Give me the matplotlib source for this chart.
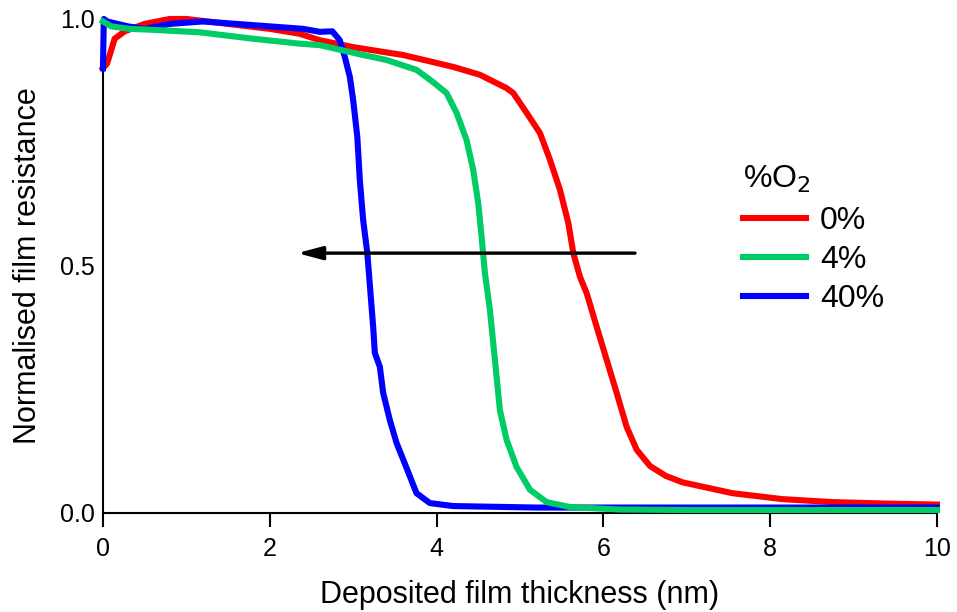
import matplotlib.pyplot as plt

plt.rcParams['font.family'] = ['Liberation Sans', 'DejaVu Sans']

# 0% O2 (red)
x_0 = [0.0, 0.05, 0.14, 0.26, 0.5, 0.8, 1.0, 1.5, 2.0, 2.36, 2.6, 3.0, 3.6, 4.2, 4.52,
       4.84, 4.92, 5.08, 5.24, 5.36, 5.48, 5.58, 5.64, 5.72, 5.8, 5.92, 6.04, 6.16, 6.28,
       6.4, 6.56, 6.75, 6.95, 7.55, 8.15, 8.75, 9.4, 10.0]
r_0 = [0.90, 0.91, 0.96, 0.975, 0.99, 1.0, 1.0, 0.99, 0.98, 0.97, 0.957, 0.943, 0.927, 0.903, 0.887,
       0.86, 0.85, 0.81, 0.769, 0.715, 0.654, 0.587, 0.526, 0.478, 0.445, 0.377, 0.31, 0.243, 0.174,
       0.128, 0.095, 0.075, 0.062, 0.04, 0.028, 0.022, 0.019, 0.017]

# 4% O2 (green)
x_4 = [0.0, 0.1, 0.32, 0.6, 1.16, 1.8, 2.36, 2.6, 3.12, 3.4, 3.76, 3.96, 4.12, 4.24, 4.36,
       4.44, 4.5, 4.54, 4.58, 4.64, 4.7, 4.76, 4.84, 4.96, 5.12, 5.32, 5.6, 6.2, 7.0, 8.0,
       9.0, 10.0]
r_4 = [0.995, 0.985, 0.98, 0.978, 0.973, 0.96, 0.95, 0.947, 0.927, 0.917, 0.897, 0.872, 0.85, 0.81, 0.755,
       0.694, 0.627, 0.559, 0.486, 0.411, 0.31, 0.208, 0.148, 0.093, 0.047, 0.022, 0.012, 0.007, 0.006, 0.006,
       0.006, 0.006]

# 40% O2 (blue)
x_40 = [0.0, 0.01, 0.05, 0.3, 0.5, 0.8, 1.2, 1.6, 2.0, 2.4, 2.6, 2.75, 2.84, 2.9, 2.96,
        3.0, 3.05, 3.08, 3.12, 3.17, 3.2, 3.24, 3.26, 3.32, 3.36, 3.44, 3.52, 3.65, 3.76, 3.92,
        4.2, 5.2, 6.5, 8.0, 10.0]
r_40 = [0.90, 1.0, 0.995, 0.985, 0.98, 0.99, 0.995, 0.99, 0.985, 0.98, 0.974, 0.975, 0.957, 0.923, 0.883,
        0.836, 0.761, 0.674, 0.593, 0.526, 0.462, 0.377, 0.324, 0.296, 0.243, 0.188, 0.142, 0.087, 0.04, 0.02,
        0.014, 0.011, 0.011, 0.011, 0.011]

labels = ['0%', '4%', '40%']
colours = ['#ff0000', '#00cc66', '#0000ff']

fig = plt.figure(figsize=(9.57, 6.12), dpi=100)
ax = fig.add_axes([0.1076, 0.1618, 0.8714, 0.8072])

lw = 4.4
l0, = ax.plot(x_0, r_0, color=colours[0], lw=lw, label=labels[0], clip_on=False, zorder=2)
l40, = ax.plot(x_40, r_40, color=colours[2], lw=lw, label=labels[2], clip_on=False, zorder=3)
l4, = ax.plot(x_4, r_4, color=colours[1], lw=lw, label=labels[1], clip_on=False, zorder=4)

# arrow across the transitions
ax.annotate('', xy=(2.33, 0.526), xytext=(6.38, 0.526),
            arrowprops=dict(arrowstyle='-|>,head_length=0.75,head_width=0.2',
                            color='black', lw=2.4, mutation_scale=20,
                            shrinkA=0, shrinkB=0), zorder=5)

ax.set_xlim(0, 10)
ax.set_ylim(0, 1.0)
ax.set_xticks([0, 2, 4, 6, 8, 10])
ax.set_yticks([0.0, 0.5, 1.0])
ax.set_yticklabels(['0.0', '0.5', '1.0'])
for s in ['top', 'right']:
    ax.spines[s].set_visible(False)
for s in ['left', 'bottom']:
    ax.spines[s].set_linewidth(1.5)
ax.tick_params(axis='x', direction='out', length=10, width=1.5, labelsize=18, pad=7)
ax.tick_params(axis='y', length=0, labelsize=18, pad=6)
ax.set_xlabel('Deposited film thickness (nm)', fontsize=22, labelpad=14)
ax.set_ylabel('Normalised film resistance', fontsize=22, labelpad=12)

leg = ax.legend(handles=[l0, l4, l40], title='%O$_2$', loc='upper left',
                bbox_to_anchor=(0.768, 0.707), frameon=False, fontsize=23,
                title_fontsize=23, handlelength=1.95, handletextpad=0.45,
                labelspacing=0.28, borderpad=0, borderaxespad=0)
leg._legend_box.align = 'left'
leg._legend_box.sep = 8

fig.savefig('out.png', dpi=100)
